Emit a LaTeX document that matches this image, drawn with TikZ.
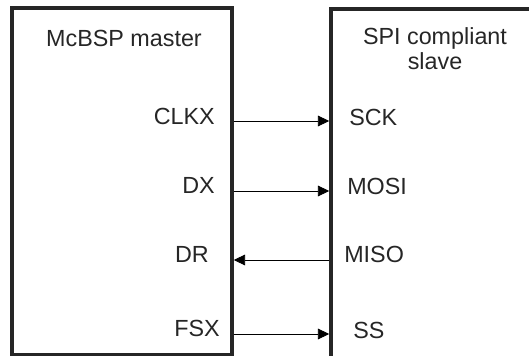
\documentclass[tikz,border=0pt]{standalone}
\usepackage{fontspec}
\setmainfont{Liberation Sans}
\usepackage{tikz}
\usetikzlibrary{arrows.meta, positioning}
\tikzset{
  chipbox/.style={draw=black!85, line width=2.6pt, rectangle, inner sep=0pt},
  pinlabel/.style={inner sep=0pt, text=black!85, font=\fontsize{17.5}{21}\selectfont},
  sigline/.style={-{Triangle[length=8.5pt,width=8pt]}, line width=0.6pt}
}
\begin{document}
\begin{tikzpicture}[x=0.75pt, y=-0.75pt]
          \useasboundingbox (0,0) rectangle (529,356);
          \clip (0,0) rectangle (529,356);
          
          % Draw the two devices
          \node[chipbox, minimum width=220*0.75pt, minimum height=347*0.75pt] (master) at (122,181.5) {};
          \node[chipbox, minimum width=260*0.75pt, minimum height=400*0.75pt] (slave) at (461,209) {};
          
          % Titles
          \node[pinlabel, anchor=base] (mtitle) at (124,47) {McBSP master};
          \node[pinlabel, anchor=base, align=center] (stitle) at (435,70) {SPI compliant\\[-2.25pt]slave};
          
          % Master pins
          \node[pinlabel, anchor=base east] (clkx) at (215,125) {CLKX};
          \node[pinlabel, anchor=base east] (dx) at (215,194) {DX};
          \node[pinlabel, anchor=base east] (dr) at (209,263) {DR};
          \node[pinlabel, anchor=base east] (fsx) at (220,337) {FSX};
          
          % Slave pins
          \node[pinlabel, anchor=base west] (sck) at (349,126) {SCK};
          \node[pinlabel, anchor=base west] (mosi) at (347,195) {MOSI};
          \node[pinlabel, anchor=base west] (miso) at (344,263) {MISO};
          \node[pinlabel, anchor=base west] (ss) at (353,339) {SS};
          
          % Signals
          \coordinate (clkxout) at (master.east |- 0,121);
          \coordinate (dxout) at (master.east |- 0,191);
          \coordinate (drin) at (master.east |- 0,260);
          \coordinate (fsxout) at (master.east |- 0,334);
          \draw[sigline] (clkxout) -- (clkxout -| slave.west);
          \draw[sigline] (dxout) -- (dxout -| slave.west);
          \draw[sigline] (drin -| slave.west) -- (drin);
          \draw[sigline] (fsxout) -- (fsxout -| slave.west);
        \end{tikzpicture}
\end{document}
